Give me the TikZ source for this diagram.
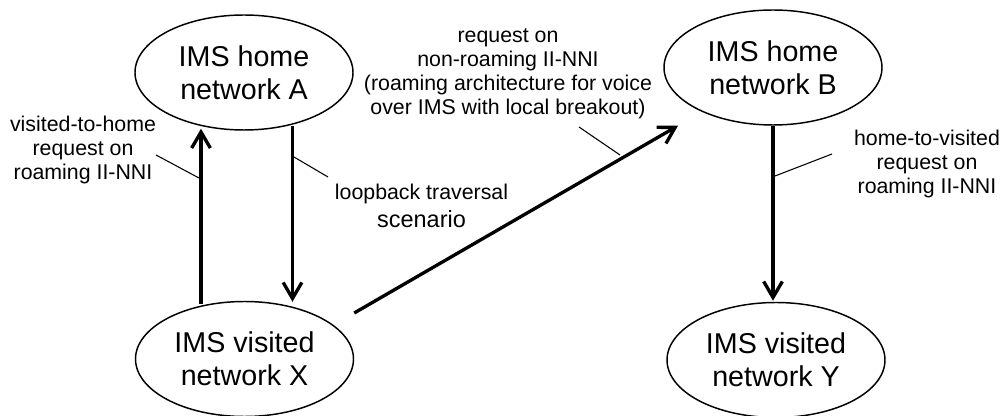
\documentclass[tikz,border=0pt]{standalone}
\usepackage{fontspec}
\setmainfont{Liberation Sans}
\usetikzlibrary{shapes.geometric,arrows.meta,calc}
\tikzset{
  ell/.style={ellipse, draw, line width=1.1pt, minimum width=163.5pt, minimum height=86.25pt,
    inner sep=0pt, align=center, font=\fontsize{21.5}{24.75}\selectfont},
  lbl/.style={inner sep=0pt, align=center, font=\fontsize{16}{18}\selectfont},
  arr/.style={line width=2.5pt, -{Straight Barb[length=12pt,width=14pt]}},
  link/.style={line width=2.5pt},
  leader/.style={line width=0.8pt}
}
\begin{document}
\begin{tikzpicture}[x=0.75pt,y=-0.75pt]
\useasboundingbox (0,0) rectangle (1001,416);
% networks
\node[ell] (A) at (244,72.5) {IMS home\\network A};
\node[ell] (X) at (244.5,359) {IMS visited\\network X};
\node[ell] (B) at (773,67.5) {IMS home\\network B};
\node[ell] (Y) at (776,360) {IMS visited\\network Y};
% labels
\node[lbl] (lv) at (83,149.5) {visited-to-home\\request on\\roaming II-NNI};
\node[lbl] (ll) at (421.5,206.3) {loopback traversal\\[3pt]{\fontsize{17.6}{18}\selectfont scenario}};
\node[lbl] (lm) at (508,73.9) {request on\\non-roaming II-NNI\\(roaming architecture for voice\\over IMS with local breakout)};
\node[lbl] (lh) at (927,163.5) {home-to-visited\\request on\\roaming II-NNI};
% connectors
\draw[arr] ($(X.north)+(-43.5,3)$) -- ($(A.south)+(-43,-2)$);
\draw[arr] ($(A.south)+(48.5,-5)$) -- ($(X.north)+(48,1)$);
\draw[arr] ($(X.east)+(0,-46)$) -- ($(B.south)+(-95,0)$);
\draw[arr] (B.south) -- ($(B.south |- Y.north)+(0,-1)$);
% leader lines
\coordinate (l1a) at (156,155);
\coordinate (l1b) at (199,178);
\coordinate (l2a) at (294,157);
\coordinate (l2b) at (328,177);
\coordinate (l3a) at (579,127);
\coordinate (l3b) at (620,155);
\coordinate (l4a) at (775,176);
\coordinate (l4b) at (832,154);
\draw[leader] (l1a) -- (l1b);
\draw[leader] (l2a) -- (l2b);
\draw[leader] (l3a) -- (l3b);
\draw[leader] (l4a) -- (l4b);
\end{tikzpicture}
\end{document}
